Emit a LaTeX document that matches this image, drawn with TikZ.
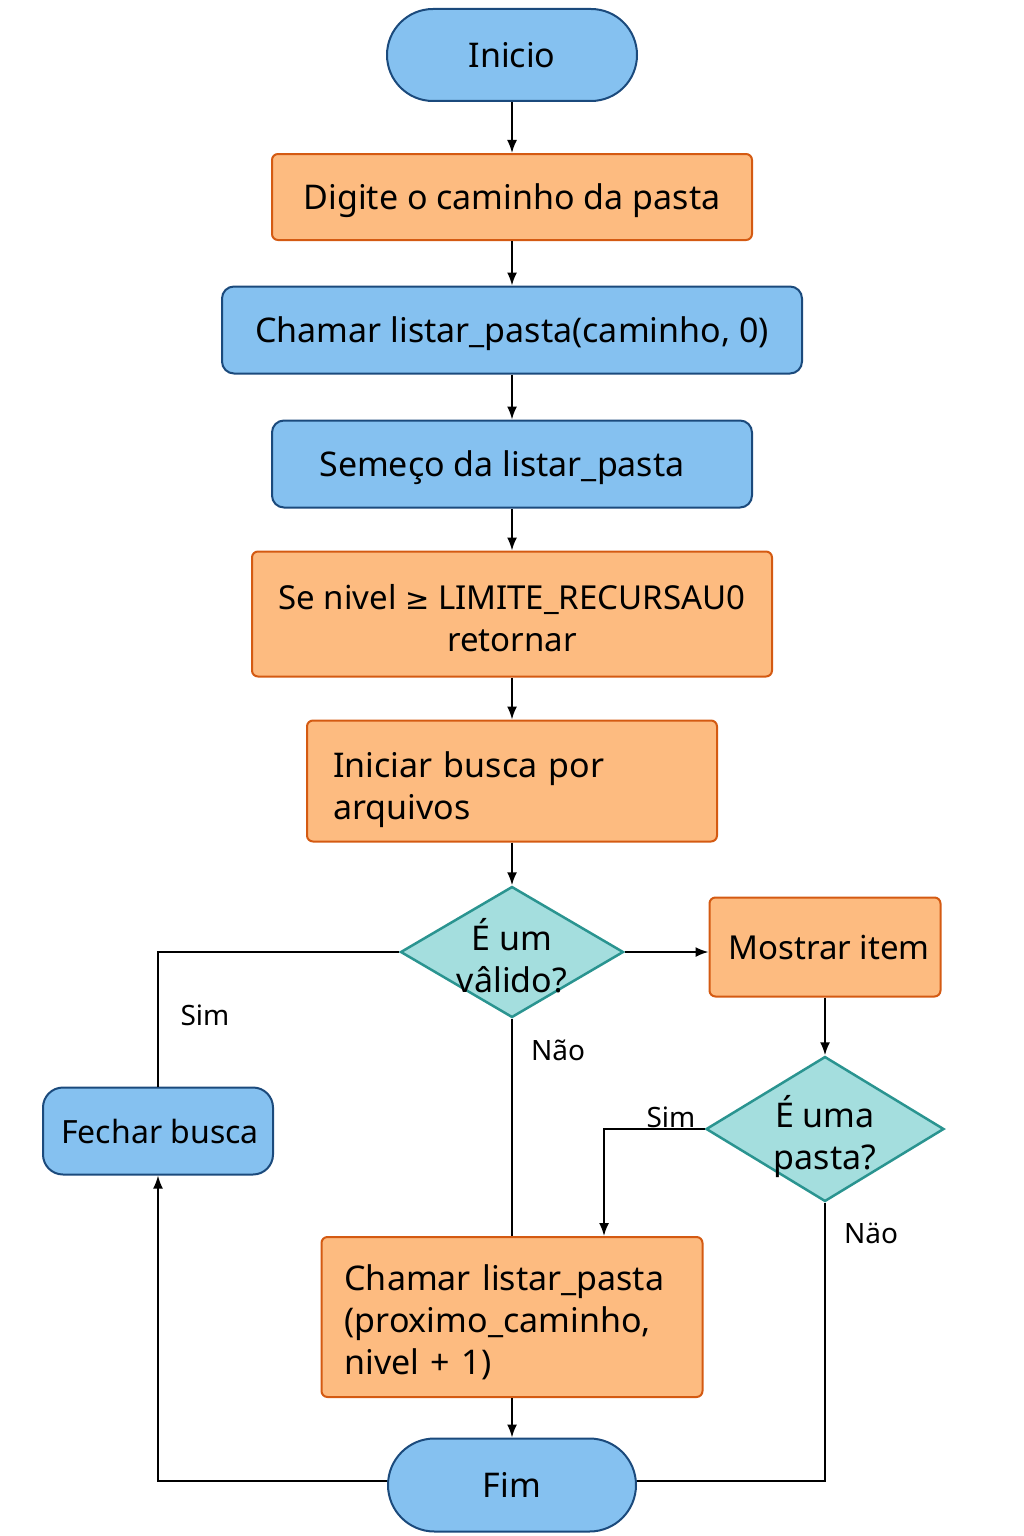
\documentclass[tikz,border=0pt]{standalone}
\usepackage{fontspec}
\setmainfont{Noto Sans}
\newfontfamily\simbolos{DejaVu Sans}
\usetikzlibrary{shapes.geometric,shapes.misc,arrows.meta}

\definecolor{azulfundo}{HTML}{85C1F0}
\definecolor{azulborda}{HTML}{1B4A7C}
\definecolor{laranjafundo}{HTML}{FDBB80}
\definecolor{laranjaborda}{HTML}{D45A12}
\definecolor{verdefundo}{HTML}{A4DEDE}
\definecolor{verdeborda}{HTML}{2A9490}

% texto do losango sem alterar o tamanho da forma
\newcommand{\rotulo}[1]{\smash{\makebox[0pt]{\raisebox{-16pt}{\begin{tabular}{@{}c@{}}#1\end{tabular}}}}}
% desce um pouco o texto de varias linhas
\newcommand{\topo}[1]{\rule{0pt}{#1}}

\begin{document}
\begin{tikzpicture}[x=1pt,y=-1pt,
  every node/.style={font=\fontsize{34}{42}\selectfont, inner sep=0pt},
  terminal/.style={rounded rectangle, draw=azulborda, fill=azulfundo, line width=2pt,
    minimum width=250pt, minimum height=92pt, text depth=0pt},
  caixaazul/.style={rectangle, rounded corners=12pt, draw=azulborda, fill=azulfundo,
    line width=2pt, minimum height=87pt, text depth=0pt},
  caixalaranja/.style={rectangle, rounded corners=6pt, draw=laranjaborda, fill=laranjafundo,
    line width=2pt, minimum height=87pt, align=center},
  decisao/.style={diamond, draw=verdeborda, fill=verdefundo, line width=2.5pt},
  rotulosaida/.style={font=\fontsize{28}{32}\selectfont},
  seta/.style={-{Latex[length=13pt,width=10pt]}, line width=1.8pt},
  linha/.style={line width=1.8pt}]
\useasboundingbox (0,0) rectangle (1024,1536);

\node[terminal] (inicio) at (512,55) {Inicio};
\node[caixalaranja, minimum width=480pt, minimum height=86pt, text depth=0pt] (digite) at (512,197) {Digite o caminho da pasta};
\node[caixaazul, minimum width=580pt] (chamar) at (512,330) {Chamar listar\_pasta(caminho, 0)};
\node[caixaazul, minimum width=480pt] (comeco) at (512,464) {\hspace*{-20pt}Semeço da listar\_pasta};
\node[caixalaranja, minimum width=520pt, minimum height=125pt, font=\fontsize{33}{42}\selectfont] (limite) at (512,614)
  {\topo{34pt}Se nivel {\simbolos\fontsize{29}{42}\selectfont ≥} LIMITE\_RECURSAU0\\retornar};
\node[caixalaranja, minimum width=410pt, minimum height=121pt, text width=358pt, align=left] (busca) at (512,781)
  {\topo{44pt}Iniciar busca por\\arquivos};
\node[decisao, minimum width=223pt, minimum height=131pt] (valido) at (512,952) {\rotulo{É um\\vâlido?}};
\node[caixalaranja, minimum width=231pt, minimum height=99pt, text depth=0pt, font=\fontsize{33}{42}\selectfont] (mostrar) at (825,947)
  {\hspace*{8pt}Mostrar item};
\node[decisao, minimum width=238pt, minimum height=145pt] (pasta) at (825,1129) {\rotulo{É uma\\pasta?}};
\node[caixaazul, rounded corners=20pt, minimum width=230pt, font=\fontsize{32}{42}\selectfont] (fechar) at (158,1131)
  {\hspace*{4pt}Fechar busca};
\node[caixalaranja, minimum width=381pt, minimum height=160pt, text width=335pt, align=left] (proximo) at (512,1317)
  {\topo{36pt}Chamar listar\_pasta\\(proximo\_caminho,\\nivel + 1)};
\node[terminal, minimum width=248pt, minimum height=93pt] (fim) at (512,1485) {Fim};

\draw[seta] (inicio) -- (digite);
\draw[seta] (digite) -- (chamar);
\draw[seta] (chamar) -- (comeco);
\draw[seta] (comeco) -- (limite);
\draw[seta] (limite) -- (busca);
\draw[seta] (busca) -- (valido);
\draw[seta] (valido.east) -- (valido.east -| mostrar.west);
\draw[linha] (valido.west) -| (fechar.north);
\draw[linha] (valido.south) -- (proximo.north);
\draw[seta] (mostrar) -- (pasta);
\draw[seta] (pasta.west) -| ([xshift=92pt]proximo.north);
\draw[linha] (pasta.south) |- ([yshift=4pt]fim.east);
\draw[seta] (proximo) -- (fim);
\draw[seta] ([yshift=4pt]fim.west) -| (fechar.south);

\node[rotulosaida] (simvalido) at (205,1015) {Sim};
\node[rotulosaida] (naovalido) at (558,1050) {Não};
\node[rotulosaida] (simpasta) at (671,1117) {Sim};
\node[rotulosaida] (naopasta) at (871,1233) {Näo};
\end{tikzpicture}
\end{document}
